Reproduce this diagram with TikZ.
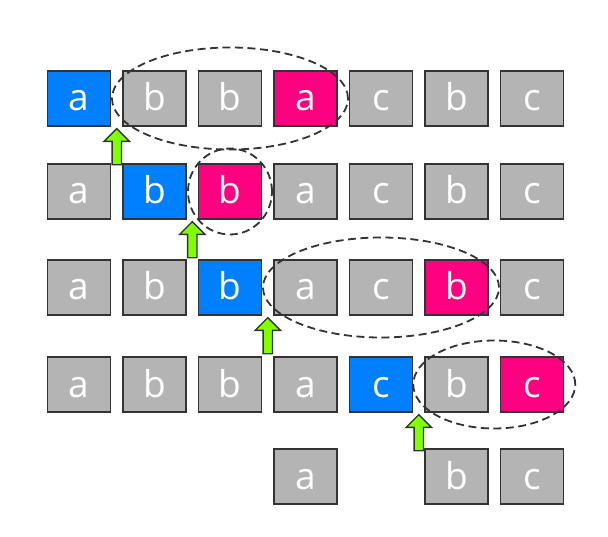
\documentclass[tikz,border=0pt]{standalone}
\usepackage{fontspec}
\setsansfont{Open Sans}
\usetikzlibrary{calc, shapes.arrows}

\definecolor{curblue}{HTML}{0080FF}
\definecolor{hitpink}{HTML}{FF0080}
\definecolor{cellgray}{HTML}{B4B4B4}
\definecolor{edgegray}{HTML}{333333}
\definecolor{ptrgreen}{HTML}{80FF00}

\begin{document}
\begin{tikzpicture}[
    x=1pt, y=1pt,
    cell/.style={
        draw=edgegray,
        line width=1.5pt,
        fill=#1,
        text=white,
        minimum width=63pt,
        minimum height=55pt,
        inner sep=0pt,
        text height=28pt,
        text depth=3pt,
        font=\sffamily\fontsize{37}{37}\selectfont
    },
    cell/.default=cellgray,
    window/.style={
        draw=edgegray,
        line width=1.8pt,
        dash pattern=on 8pt off 4.5pt
    },
    pointer/.style={
        single arrow,
        draw=edgegray,
        line width=1.4pt,
        fill=ptrgreen,
        rotate=90,
        minimum height=36pt,
        inner sep=4pt,
        single arrow head extend=8pt,
        anchor=tip
    }
]
\useasboundingbox (0,0) rectangle (608,536);

% rows of the string
\foreach \t/\f [count=\i] in {a/curblue, b/cellgray, b/cellgray, a/hitpink, c/cellgray, b/cellgray, c/cellgray}
    \node[cell=\f] (r1c\i) at ({79+75.5*(\i-1)}, 437.5) {\t};
\foreach \t/\f [count=\i] in {a/cellgray, b/curblue, b/hitpink, a/cellgray, c/cellgray, b/cellgray, c/cellgray}
    \node[cell=\f] (r2c\i) at ({79+75.5*(\i-1)}, 344.5) {\t};
\foreach \t/\f [count=\i] in {a/cellgray, b/cellgray, b/curblue, a/cellgray, c/cellgray, b/hitpink, c/cellgray}
    \node[cell=\f] (r3c\i) at ({79+75.5*(\i-1)}, 248.5) {\t};
\foreach \t/\f [count=\i] in {a/cellgray, b/cellgray, b/cellgray, a/cellgray, c/curblue, b/cellgray, c/hitpink}
    \node[cell=\f] (r4c\i) at ({79+75.5*(\i-1)}, 151.5) {\t};
\foreach \t/\i in {a/4, b/6, c/7}
    \node[cell] (r5c\i) at ({79+75.5*(\i-1)}, 59.5) {\t};

% windows
\draw[window] ($(r1c2)!0.5!(r1c4)$) ellipse [x radius=118, y radius=51];
\draw[window] (r2c3) ellipse [x radius=42, y radius=43];
\draw[window] ($(r3c4)!0.5!(r3c6)$) ellipse [x radius=118, y radius=50];
\draw[window] ($(r4c6)!0.5!(r4c7)$) ellipse [x radius=81, y radius=44];

% pointers
\node[pointer] (p1) at ($(r1c1.south east)!0.5!(r1c2.south west)+(0,-1)$) {};
\node[pointer] (p2) at ($(r2c2.south east)!0.5!(r2c3.south west)+(0,-1)$) {};
\node[pointer] (p3) at ($(r3c3.south east)!0.5!(r3c4.south west)+(0,-1)$) {};
\node[pointer] (p4) at ($(r4c5.south east)!0.5!(r4c6.south west)+(0,-1)$) {};

\end{tikzpicture}
\end{document}
